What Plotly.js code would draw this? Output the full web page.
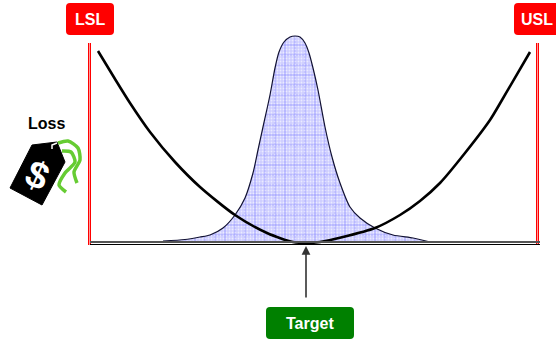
<!DOCTYPE html>
<html>
<head>
<meta charset="utf-8">
<script src="https://cdn.plot.ly/plotly-3.0.1.min.js"></script>
<style>html,body{margin:0;padding:0;background:#fff}</style>
</head>
<body>
<div id="chart" style="width:556px;height:340px"></div>
<script>
// curva de distribuicao (pixels)
const bellX = [163, 185, 200, 210, 223, 235, 245, 253, 258, 263, 270, 275, 279, 284, 290, 295, 300, 305, 309, 313, 318, 325, 332, 340, 350, 360, 375, 393, 413, 428];
const bellY = [241, 239.5, 237, 235, 228, 215, 198, 173, 150, 127, 95, 68, 52, 42, 37, 36, 37, 43, 53, 68, 90, 127, 157, 183, 207, 218, 228, 235, 238, 241.5];

// curva de perda
const lossX = [98, 115, 130, 150, 175, 200, 235, 267, 293, 308, 320, 343, 375, 400, 420, 440, 465, 490, 502, 530];
const lossY = [51, 79, 103, 132, 162, 187, 215, 233, 242, 243, 242, 237, 228, 215, 201, 183, 153, 120, 100, 52];

// limites e linha base
const lslX = [89.5, 89.5];
const uslX = [537.5, 537.5];
const limitY = [43, 245];
const baseX = [90, 540];

// etiqueta de preco
const tagX = [10, 32, 57, 65, 42, 10];
const tagY = [188, 145, 142, 162, 205, 188];
const hookX = [52, 52, 57];
const hookY = [149, 145, 143];
const stringAX = [58, 68, 78, 80, 74, 77];
const stringAY = [143, 141, 148, 160, 172, 183];
const stringBX = [62, 71, 75, 65, 59, 66];
const stringBY = [151, 152, 162, 173, 185, 192];

function roundedBox(x0, y0, x1, y1, r, color) {
    const path = `M${x0 + r},${y0} L${x1 - r},${y0} Q${x1},${y0} ${x1},${y0 + r} L${x1},${y1 - r} Q${x1},${y1} ${x1 - r},${y1} L${x0 + r},${y1} Q${x0},${y1} ${x0},${y1 - r} L${x0},${y0 + r} Q${x0},${y0} ${x0 + r},${y0} Z`;
    return { type: 'path', path: path, fillcolor: color, line: { width: 0 }, layer: 'above' };
}

function label(x, y, text, color, size) {
    return {
        x: x, y: y, text: '<b>' + text + '</b>', showarrow: false,
        font: { family: 'Liberation Sans, Arial, sans-serif', size: size || 16, color: color }
    };
}

const line = (x, y, color, width, shape) => ({
    x: x, y: y, mode: 'lines', hoverinfo: 'skip',
    line: { color: color, width: width, shape: shape || 'linear', smoothing: 0.7 }
});

const bellFill = (pattern, color) => ({
    x: bellX, y: bellY, mode: 'lines', line: { width: 0, shape: 'spline', smoothing: 0.7 },
    fill: 'toself', fillcolor: color, hoverinfo: 'skip', fillpattern: pattern
});

const traces = [
    // preenchimento pontilhado + grade
    bellFill({ shape: '+', size: 10, solidity: 0.2, fgcolor: '#a0a0ff', bgcolor: '#cdcdff' }, '#cdcdff'),
    bellFill({ shape: '.', size: 3, solidity: 0.3, fgcolor: '#ffffff', fgopacity: 0.6, bgcolor: 'rgba(0,0,0,0)' }, 'rgba(0,0,0,0)'),
    line(bellX, bellY, '#111133', 1.2, 'spline'),
    line(lossX, lossY, '#000000', 2.6, 'spline'),
    line(lslX, limitY, '#ff0000', 3),
    line(lslX, limitY, '#ff9a9a', 1),
    line(uslX, limitY, '#ff0000', 3),
    line(uslX, limitY, '#ff9a9a', 1),
    line(baseX, [242, 242], '#555555', 2),
    line(baseX, [244.5, 244.5], '#000000', 1.2),
    {
        x: tagX, y: tagY, mode: 'lines', fill: 'toself', fillcolor: '#000000',
        line: { color: '#000000', width: 1 }, hoverinfo: 'skip'
    },
    line(hookX, hookY, '#ffffff', 1.5),
    line(stringAX, stringAY, '#66cc33', 3.5, 'spline'),
    line(stringBX, stringBY, '#66cc33', 3.5, 'spline')
];

const layout = {
    width: 556,
    height: 340,
    margin: { t: 0, b: 0, l: 0, r: 0 },
    paper_bgcolor: '#ffffff',
    plot_bgcolor: '#ffffff',
    showlegend: false,
    xaxis: { range: [0, 556], visible: false, fixedrange: true },
    yaxis: { range: [340, 0], visible: false, fixedrange: true },
    shapes: [
        roundedBox(66, 3, 114, 35, 4, '#ff0000'),
        roundedBox(514, 3, 560, 35, 4, '#ff0000'),
        roundedBox(266, 307, 354, 339, 4, '#008000')
    ],
    annotations: [
        label(90, 19, 'LSL', '#ffffff'),
        label(537, 19, 'USL', '#ffffff'),
        label(310, 323, 'Target', '#ffffff'),
        label(46, 123, 'Loss', '#000000'),
        Object.assign(label(37, 175, '$', '#ffffff', 38), { textangle: 24 }),
        {
            x: 306, y: 246, ax: 306, ay: 299, axref: 'x', ayref: 'y', xref: 'x', yref: 'y',
            text: '', showarrow: true, arrowhead: 2, arrowsize: 1.1, arrowwidth: 1.6, arrowcolor: '#333333'
        }
    ]
};

Plotly.newPlot('chart', traces, layout, { displayModeBar: false, staticPlot: true });
</script>
</body>
</html>
